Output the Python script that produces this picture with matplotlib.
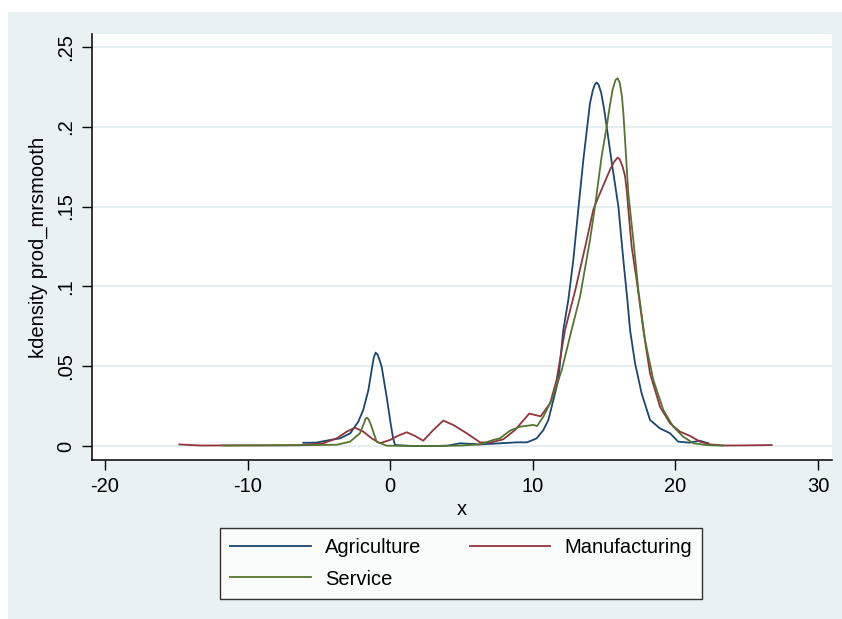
import matplotlib.pyplot as plt
from matplotlib.patches import Rectangle

plt.rcParams['font.family'] = ['Liberation Sans', 'DejaVu Sans']
plt.rcParams['axes.unicode_minus'] = False

# kernel density estimates of prod_mrsmooth by sector
agri_x = [-6.1, -5.2, -4.2, -3.5, -2.8, -2.24, -1.89, -1.53, -1.3, -1.15, -1.02,
          -0.88, -0.75, -0.6, -0.25, 0.03, 0.2, 0.34, 1.5, 3.0, 4.0, 4.9, 6.3,
          7.7, 8.9, 9.6, 10.27, 10.74, 11.09, 11.44, 11.79, 12.14, 12.49, 12.84,
          13.2, 13.54, 14.01, 14.2, 14.35, 14.48, 14.62, 14.8, 15.0, 15.18, 15.53,
          16.0, 16.35, 16.63, 16.82, 17.17, 17.63, 18.22, 18.92, 19.62, 20.2,
          21.0, 21.7, 22.3]
agri_y = [0.002, 0.0021, 0.0038, 0.0048, 0.008, 0.0152, 0.0226, 0.035, 0.0476,
          0.0555, 0.0585, 0.0572, 0.054, 0.0497, 0.0309, 0.0142, 0.005, 0.0006,
          0.0, 0.0, 0.0002, 0.0017, 0.001, 0.0017, 0.0023, 0.0023, 0.0048, 0.010,
          0.0163, 0.0288, 0.0414, 0.0727, 0.0915, 0.1165, 0.149, 0.179, 0.2147,
          0.2225, 0.2265, 0.2277, 0.2262, 0.221, 0.211, 0.200, 0.178, 0.150,
          0.1165, 0.0915, 0.0727, 0.0518, 0.033, 0.0163, 0.011, 0.008, 0.0027,
          0.0021, 0.0033, 0.0017]

manu_x = [-14.79, -13.3, -11.0, -8.5, -6.3, -4.69, -3.75, -3.05, -2.47, -1.89,
          -1.3, -0.72, -0.01, 0.57, 1.16, 1.74, 2.32, 3.02, 3.72, 4.42, 5.36,
          6.3, 7.0, 7.93, 8.75, 9.75, 10.55, 11.21, 11.67, 12.26, 12.96, 13.78,
          14.24, 14.6, 15.41, 15.7, 15.95, 16.1, 16.3, 16.47, 16.6, 16.7, 16.93,
          17.28, 17.75, 18.22, 18.92, 19.62, 20.32, 21.03, 21.73, 22.43, 23.5,
          25.0, 26.75]
manu_y = [0.001, 0.0003, 0.0004, 0.0004, 0.0005, 0.0017, 0.0048, 0.009, 0.0115,
          0.009, 0.0048, 0.0017, 0.0038, 0.0065, 0.0086, 0.0063, 0.0033, 0.010,
          0.0159, 0.0132, 0.008, 0.0023, 0.0021, 0.0042, 0.010, 0.0203, 0.0186,
          0.0267, 0.0414, 0.0727, 0.097, 0.129, 0.148, 0.156, 0.173, 0.178,
          0.1807, 0.1795, 0.175, 0.169, 0.159, 0.148, 0.125, 0.104, 0.0727,
          0.0455, 0.0246, 0.0142, 0.009, 0.0063, 0.0027, 0.001, 0.0003, 0.0004,
          0.0006]

serv_x = [-11.7, -9.0, -6.0, -3.75, -2.82, -2.12, -1.85, -1.72, -1.62, -1.5,
          -1.3, -0.95, -0.25, 3.0, 5.0, 6.3, 7.23, 7.7, 8.16, 8.4, 9.1, 10.04,
          10.3, 10.74, 11.32, 12.03, 12.72, 13.31, 14.01, 14.36, 14.82, 15.18,
          15.4, 15.6, 15.8, 15.95, 16.1, 16.25, 16.35, 16.5, 16.7, 17.05, 17.4,
          17.87, 18.45, 19.15, 19.85, 20.55, 21.26, 22.19, 23.3]
serv_y = [0.0003, 0.0004, 0.0005, 0.0008, 0.0027, 0.008, 0.014, 0.0172, 0.0177,
          0.0165, 0.012, 0.0027, 0.0002, 0.0, 0.0003, 0.001, 0.0038, 0.0048,
          0.008, 0.0096, 0.0121, 0.0132, 0.0125, 0.0184, 0.0288, 0.0476, 0.0727,
          0.0935, 0.129, 0.150, 0.181, 0.200, 0.213, 0.2235, 0.2293, 0.2304,
          0.2275, 0.219, 0.2085, 0.187, 0.158, 0.129, 0.0977, 0.0664, 0.0414,
          0.0226, 0.0121, 0.0058, 0.0017, 0.0006, 0.0002]

xticks = [-20, -10, 0, 10, 20, 30]
yticks = [0, 0.05, 0.1, 0.15, 0.2, 0.25]
ytick_labels = ['0', '.05', '.1', '.15', '.2', '.25']

bg = '#eaf1f3'
fig = plt.figure(figsize=(8.42, 6.19), dpi=100)
fig.patches.append(Rectangle((8 / 842, 0), 1, 1 - 12 / 619, transform=fig.transFigure,
                             facecolor=bg, edgecolor='none', zorder=-10))

ax = fig.add_axes([92 / 842, 1 - 460 / 619, 740 / 842, 426 / 619])
ax.set_facecolor('white')

l1, = ax.plot(agri_x, agri_y, color='#1a476f', lw=1.3, label='Agriculture')
l2, = ax.plot(manu_x, manu_y, color='#90353b', lw=1.3, label='Manufacturing')
l3, = ax.plot(serv_x, serv_y, color='#55752f', lw=1.3, label='Service')

ax.set_xlim(-20.91, 30.98)
ax.set_ylim(-0.00877, 0.2581)
ax.set_xticks(xticks)
ax.set_yticks(yticks)
ax.set_yticklabels(ytick_labels, rotation=90, va='center')
ax.tick_params(axis='both', direction='out', length=7, width=1, labelsize=14.5, pad=5)
ax.grid(axis='y', color='#e6eef1', lw=1.5)
ax.set_axisbelow(True)
for s in ['top', 'right']:
    ax.spines[s].set_visible(False)
for s in ['left', 'bottom']:
    ax.spines[s].set_linewidth(1.1)

ax.set_xlabel('x', fontsize=14.5, labelpad=3)
ax.set_ylabel('kdensity prod_mrsmooth', fontsize=14.5, labelpad=6)

# legend rows: Agriculture / Manufacturing, then Service
leg = fig.legend([l1, l3, l2], ['Agriculture', 'Service', 'Manufacturing'], ncol=2,
                 loc='center', bbox_to_anchor=(461 / 842, 1 - 563.5 / 619),
                 fontsize=14.5, frameon=True, fancybox=False, edgecolor='black',
                 handlelength=4.0, handletextpad=0.7, columnspacing=2.4,
                 labelspacing=0.6, borderpad=0.5)
leg.get_frame().set_linewidth(1.0)

fig.savefig('out.png', dpi=100)
